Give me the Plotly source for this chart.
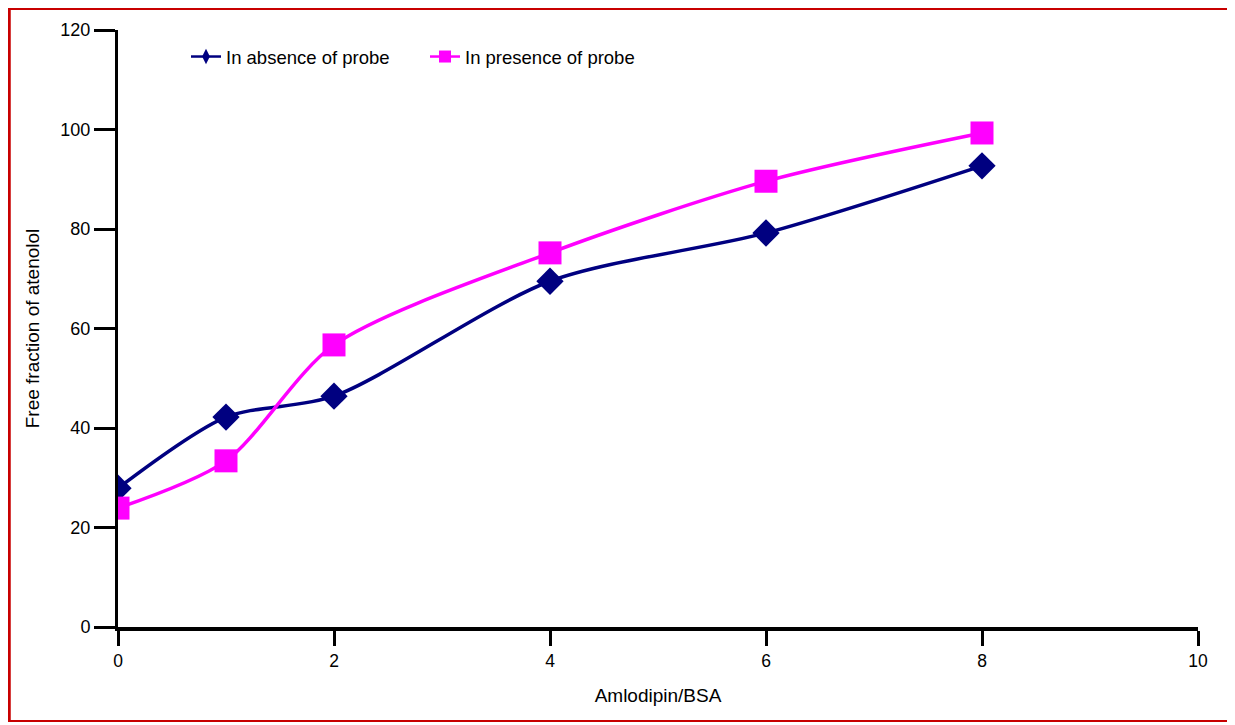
import plotly.graph_objects as go

x_vals = [0, 1, 2, 4, 6, 8]
absence = [27.9, 42.2, 46.4, 69.5, 79.2, 92.7]
presence = [23.9, 33.4, 56.7, 75.2, 89.6, 99.3]
x_ticks = [0, 2, 4, 6, 8, 10]
y_ticks = [0, 20, 40, 60, 80, 100, 120]

NAVY = "#000080"
MAG = "#FF00FF"
RED = "#C80000"

# page body has an 8px margin; compensate so the plot lands where the reference has it
W, H = 1227, 717
L, R, T, B = 110, 37, 22, 98
PW, PH = W - L - R, H - T - B


def px(fx):
    return (fx - L) / PW


def py(fy):
    return (H - B - fy) / PH


fig = go.Figure()
fig.add_trace(go.Scatter(x=x_vals, y=absence, mode="lines+markers", showlegend=False,
                         line=dict(color=NAVY, width=3.5, shape="spline", smoothing=0.8),
                         marker=dict(symbol="diamond", size=21, color=NAVY)))
fig.add_trace(go.Scatter(x=x_vals, y=presence, mode="lines+markers", showlegend=False,
                         line=dict(color=MAG, width=3.5, shape="spline", smoothing=0.8),
                         marker=dict(symbol="square", size=23, color=MAG)))
fig.add_trace(go.Scatter(x=[None], y=[None], mode="lines+markers", name="In absence of probe",
                         line=dict(color=NAVY, width=2.5),
                         marker=dict(symbol="diamond-tall", size=11, color=NAVY)))
fig.add_trace(go.Scatter(x=[None], y=[None], mode="lines+markers", name="In presence of probe",
                         line=dict(color=MAG, width=2.5),
                         marker=dict(symbol="square", size=12, color=MAG)))

border = [
    dict(x0=px(1), x1=px(1), y0=py(0), y1=py(714)),          # left
    dict(x0=px(0), x1=px(1226), y0=py(0.5), y1=py(0.5)),      # top
    dict(x0=px(1225), x1=px(1225), y0=py(0), y1=py(714)),     # right
    dict(x0=px(0), x1=px(1226), y0=py(713), y1=py(713)),      # bottom
]
widths = [3.5, 3, 2, 2]
shapes = [dict(type="line", xref="paper", yref="paper", line=dict(color=RED, width=w), **b)
          for b, w in zip(border, widths)]

fig.update_layout(
    width=W, height=H,
    margin=dict(l=L, r=R, t=T, b=B),
    paper_bgcolor="white", plot_bgcolor="white",
    font=dict(family="Liberation Sans, Arial, sans-serif", size=15.5, color="black"),
    legend=dict(orientation="h", x=px(178), y=py(49), xanchor="left", yanchor="middle",
                bgcolor="rgba(0,0,0,0)", font=dict(size=18.5), entrywidth=194,
                borderwidth=0, tracegroupgap=0),
    shapes=shapes,
)
fig.update_xaxes(range=[0, 10], tickvals=x_ticks, showgrid=False, zeroline=False,
                 showline=True, linecolor="black", linewidth=4,
                 ticks="outside", ticklen=15, tickwidth=3, tickcolor="black",
                 tickfont=dict(size=17.5),
                 title=dict(text="Amlodipin/BSA", standoff=20), fixedrange=True)
fig.update_yaxes(range=[0, 120], tickvals=y_ticks, showgrid=False, zeroline=False,
                 showline=True, linecolor="black", linewidth=3,
                 ticks="outside", ticklen=21, tickwidth=3, tickcolor="black",
                 tickfont=dict(size=18),
                 title=dict(text="Free fraction of atenolol", standoff=16), fixedrange=True)

fig.write_html("out.html")
